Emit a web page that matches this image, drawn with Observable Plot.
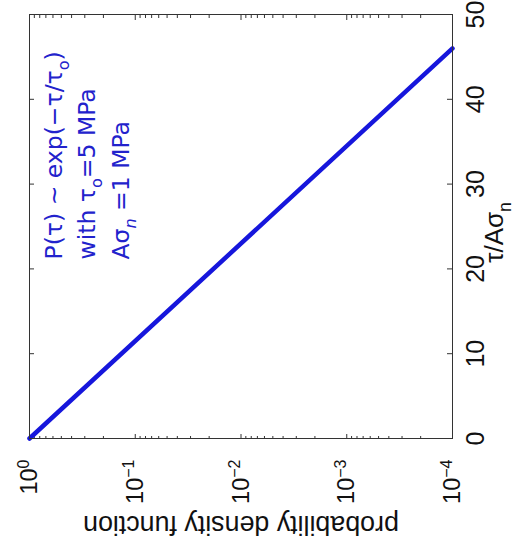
<!DOCTYPE html>
<html><head><meta charset="utf-8">
<script src="https://cdn.jsdelivr.net/npm/d3@7"></script>
<script src="https://cdn.jsdelivr.net/npm/@observablehq/plot@0.6"></script>
<style>
html,body{margin:0;padding:0;background:#fff;overflow:hidden;width:521px;height:544px;}
#wrap{position:absolute;left:0;top:0;width:544px;height:521px;transform-origin:0 0;transform:translate(0px,544px) rotate(-90deg);}
</style></head><body><div id="wrap"></div>
<script>
// Data (chart drawn in its natural orientation, then the whole figure is turned 90° counter-clockwise)
const tau = [0, 46];
const pdf = [1, 1e-4];
const tauTicks = [0, 10, 20, 30, 40, 50];
const pdfTicks = [1, 1e-1, 1e-2, 1e-3, 1e-4];
const pdfTickExponents = ["0", "−1", "−2", "−3", "−4"];
const xLabel = "τ/Aσ_{n}";
const yLabel = "probability density function";
const annotationLines = ["P(τ) ~ exp(−τ/τ_{o})", "with τ_{o}=5 MPa", "Aσ_i{n} =1 MPa"];

const W = 544, H = 521, mL = 105, mR = 15, mT = 29, mB = 69;
const fw = W - mL - mR, fh = H - mT - mB;
const tickColor = "#333";
const minor = d3.scaleLog().domain([1e-4, 1]).ticks()
  .filter(v => Math.abs(Math.log10(v) - Math.round(Math.log10(v))) > 1e-9);
const rows = tau.map((t, i) => ({tau: t, pdf: pdf[i]}));

const plot = Plot.plot({
  width: W, height: H,
  marginLeft: mL, marginRight: mR, marginTop: mT, marginBottom: mB,
  style: {fontFamily: "'Liberation Sans', Arial, sans-serif", background: "transparent", overflow: "visible"},
  x: {domain: [0, 50], axis: null},
  y: {type: "log", domain: [1e-4, 1], axis: null},
  marks: [
    Plot.ruleX(tauTicks, {x: d => d, insetTop: fh - 5, stroke: tickColor}),
    Plot.ruleX(tauTicks, {x: d => d, insetBottom: fh - 5, stroke: tickColor}),
    Plot.ruleY(pdfTicks, {y: d => d, insetRight: fw - 5, stroke: tickColor}),
    Plot.ruleY(pdfTicks, {y: d => d, insetLeft: fw - 5, stroke: tickColor}),
    Plot.ruleY(minor, {y: d => d, insetRight: fw - 3, stroke: tickColor}),
    Plot.ruleY(minor, {y: d => d, insetLeft: fw - 3, stroke: tickColor}),
    Plot.line(rows, {x: "tau", y: "pdf", stroke: "#1616dc", strokeWidth: 4.5}),
    Plot.frame({stroke: "#333", strokeWidth: 1}),
    Plot.text(tauTicks, {x: d => d, frameAnchor: "bottom", dy: 23, lineAnchor: "middle", textAnchor: "middle",
      text: d => String(d), fontSize: 25, fill: "#111"}),
    Plot.text(pdfTicks, {y: d => d, frameAnchor: "left", dx: -21, textAnchor: "end", lineAnchor: "middle",
      text: (d, i) => `10^{${pdfTickExponents[i]}}`, fontSize: 23.5, fill: "#111"}),
    Plot.text([yLabel], {frameAnchor: "left", dx: -86, rotate: -90, textAnchor: "middle", lineAnchor: "middle",
      fontSize: 26.8, fill: "#111"}),
    Plot.text([xLabel], {frameAnchor: "bottom", dy: 42, dx: -6, textAnchor: "middle", lineAnchor: "middle",
      fontSize: 26, fill: "#111"}),
    ...annotationLines.map((s, i) => Plot.text([s], {
      frameAnchor: "top-left", dx: 179, dy: 32 + i * 33.5, lineAnchor: "bottom", textAnchor: "start",
      fontSize: 23.5, fill: "#2222cc", fontFamily: "'DejaVu Sans', Verdana, sans-serif"
    }))
  ]
});
document.getElementById("wrap").appendChild(plot);

// turn _{..} and ^{..} markup into real sub/superscript tspans
const NS = "http://www.w3.org/2000/svg";
plot.querySelectorAll("text").forEach(t => {
  const s = t.textContent;
  if (!/[_^]i?\{/.test(s)) return;
  const fs = parseFloat(getComputedStyle(t).fontSize) || 20;
  t.textContent = "";
  const re = /([_^])(i?)\{([^}]*)\}|([^_^]+)/g;
  let m, shift = 0;
  while ((m = re.exec(s))) {
    const ts = document.createElementNS(NS, "tspan");
    let target;
    if (m[4] !== undefined) { target = 0; ts.textContent = m[4]; }
    else {
      target = m[1] === "_" ? 0.3 * fs : -0.36 * fs;
      ts.textContent = m[3];
      ts.setAttribute("font-size", (0.68 * fs).toFixed(1));
      if (m[2]) ts.setAttribute("font-style", "italic");
    }
    const dy = target - shift;
    if (dy) ts.setAttribute("dy", dy.toFixed(1));
    shift = target;
    t.appendChild(ts);
  }
});
</script></body></html>
